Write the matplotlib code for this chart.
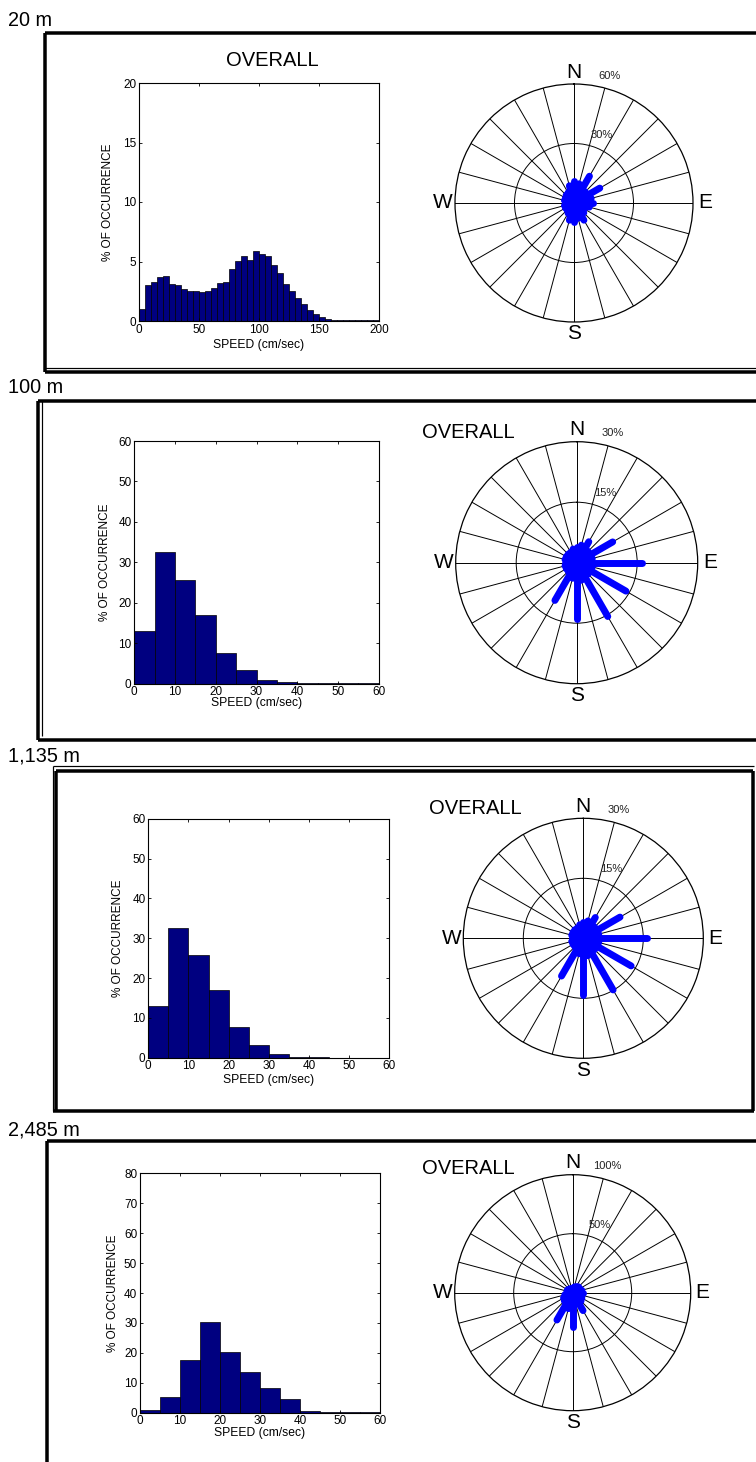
import numpy as np
import matplotlib
matplotlib.use("Agg")
import matplotlib.pyplot as plt
from matplotlib.lines import Line2D

plt.rcParams["font.family"] = ["Liberation Sans", "DejaVu Sans"]

# --- depth levels ---
depths = ["20 m", "100 m", "1,135 m", "2,485 m"]

# --- speed histograms (% of occurrence per 5 cm/sec bin) ---
bin_width = 5
pct_20 = [1.0, 3.0, 3.3, 3.7, 3.8, 3.1, 3.0, 2.65, 2.5, 2.5,
          2.4, 2.5, 2.8, 3.2, 3.3, 4.4, 5.05, 5.5, 5.1, 5.9,
          5.6, 5.5, 4.7, 4.05, 3.1, 2.5, 1.9, 1.4, 0.9, 0.6,
          0.3, 0.2, 0.05, 0.05, 0.05, 0.05, 0.05, 0.05, 0.05, 0.05]
pct_100 = [13.1, 32.5, 25.7, 16.9, 7.7, 3.3, 1.0, 0.3, 0.1, 0.05, 0.05, 0.05]
pct_1135 = [13.1, 32.5, 25.7, 16.9, 7.7, 3.3, 1.0, 0.3, 0.1, 0.05, 0.05, 0.05]
pct_2485 = [0.9, 5.35, 17.6, 30.3, 20.3, 13.5, 8.2, 4.5, 0.6, 0.3, 0.1, 0.1]

speed_max = [200, 60, 60, 60]
speed_ticks = [[0, 50, 100, 150, 200], [0, 10, 20, 30, 40, 50, 60],
               [0, 10, 20, 30, 40, 50, 60], [0, 10, 20, 30, 40, 50, 60]]
pct_max = [20, 60, 60, 80]
pct_step = [5, 10, 10, 10]

# --- direction roses (% of occurrence per 15 degree sector, clockwise from N) ---
dir_deg = [0, 15, 30, 45, 60, 75, 90, 105, 120, 135, 150, 165,
           180, 195, 210, 225, 240, 255, 270, 285, 300, 315, 330, 345]
rose_20 = [11, 10, 15.6, 8, 15, 9, 9.7, 8, 6, 7, 10, 8,
           9.7, 9, 6, 5, 5, 5, 4.5, 5, 5, 5.6, 6, 9]
rose_100 = [4, 4.5, 6, 4, 10.3, 4, 16.1, 4, 14.1, 4, 15.4, 4.5,
            14, 4, 10.8, 3, 3, 3, 2.9, 3, 3, 3, 3, 3.5]
rose_1135 = [4, 4.5, 6, 4, 10.6, 4, 15.8, 4, 13.8, 4, 14.9, 4.5,
             14.2, 4, 10.9, 3, 3, 3, 2.9, 3, 3, 3, 3, 3.5]
rose_2485 = [3.5, 5, 6, 7, 7, 8, 8.4, 8, 9, 10, 17.5, 10,
             28.7, 14, 26.7, 10, 9, 7, 6, 5, 5, 4, 4, 3.5]
rose_max = [60, 30, 30, 100]

hists = [pct_20, pct_100, pct_1135, pct_2485]
roses = [rose_20, rose_100, rose_1135, rose_2485]

W, H = 756, 1462
fig = plt.figure(figsize=(W / 100, H / 100), dpi=100)


def fx(x):
    return x / W


def fy(y):
    return 1 - y / H


def px_axes(x0, y0, x1, y1, **kw):
    return fig.add_axes([fx(x0), fy(y1), (x1 - x0) / W, (y1 - y0) / H], **kw)


def line(xs, ys, lw_px):
    fig.add_artist(Line2D([fx(x) for x in xs], [fy(y) for y in ys],
                          transform=fig.transFigure, color="black",
                          lw=lw_px * 0.72, solid_capstyle="butt"))


# layout (pixel boxes)
hist_box = [(139, 83, 379, 321), (134.3, 441, 378.7, 683.7),
            (148.3, 818.7, 389.3, 1057.7), (140, 1173.3, 380, 1412.7)]
ylab_x = [108, 105, 118, 113]
xlab_y = [345, 703, 1080, 1433]
rose_c = [(574, 203, 119), (576.7, 562.7, 121), (583.3, 938.3, 120), (572.7, 1292.7, 118)]
overall_xy = [(272, 61), (468, 432), (475, 809), (468, 1168)]
depth_y = [26, 393, 761.5, 1135]

# panel frames
line([45, 756], [33, 33], 3.5)
line([45, 45], [33, 372], 3.5)
line([45, 756], [372, 372], 3.5)
line([45, 756], [368.3, 368.3], 1.2)

line([38, 756], [401, 401], 3.5)
line([38, 38], [401, 739.5], 3.5)
line([41.5, 41.5], [401, 736], 1.2)
line([38, 756], [739.5, 739.5], 3.5)

line([52.5, 754], [766.3, 766.3], 1.2)
line([56, 753], [770.5, 770.5], 3.5)
line([52.5, 52.5], [766.3, 1111], 1.2)
line([56, 56], [770.5, 1111], 3.5)
line([52.5, 754], [1111, 1111], 3.5)
line([753, 753], [770.5, 1111], 3.5)

line([47, 756], [1141, 1141], 3.5)
line([47, 47], [1141, 1462], 3.5)

for i in range(4):
    fig.text(fx(8), fy(depth_y[i]), depths[i], fontsize=14.3, ha="left", va="baseline")

    # speed histogram
    x0, y0, x1, y1 = hist_box[i]
    ax = px_axes(x0, y0, x1, y1)
    vals = hists[i]
    left = [k * bin_width for k in range(len(vals))]
    ax.bar(left, vals, width=bin_width, align="edge", color="#000080",
           edgecolor="black", linewidth=0.5)
    ax.set_xlim(0, speed_max[i])
    ax.set_ylim(0, pct_max[i])
    ax.set_xticks(speed_ticks[i])
    ax.set_yticks(range(0, pct_max[i] + 1, pct_step[i]))
    ax.tick_params(direction="in", top=True, right=True, length=2.5, width=0.6,
                   labelsize=8.5, pad=2)
    for s in ax.spines.values():
        s.set_linewidth(0.8)
    fig.text(fx(ylab_x[i]), fy((y0 + y1) / 2), "% OF OCCURRENCE", rotation=90,
             fontsize=8.5, ha="center", va="center")
    fig.text(fx((x0 + x1) / 2), fy(xlab_y[i]), "SPEED (cm/sec)", fontsize=8.7,
             ha="center", va="center")
    fig.text(fx(overall_xy[i][0]), fy(overall_xy[i][1]), "OVERALL", fontsize=14.5,
             ha="center", va="center")

    # direction rose
    cx, cy, R = rose_c[i]
    pa = px_axes(cx - R, cy - R, cx + R, cy + R, projection="polar")
    pa.set_theta_zero_location("N")
    pa.set_theta_direction(-1)
    rmax = rose_max[i]
    pa.set_ylim(0, rmax)
    pa.set_thetagrids(range(0, 360, 15), labels=[""] * 24)
    pa.set_rgrids([rmax / 2], labels=[""])
    pa.grid(True, color="black", linewidth=0.7, linestyle="-")
    pa.spines["polar"].set_linewidth(0.9)
    pa.set_facecolor("none")
    for d, v in zip(dir_deg, roses[i]):
        th = np.deg2rad(d)
        pa.plot([th, th], [0, v], color="#0000FF", lw=5, solid_capstyle="round")
    for lab, ang in [("N", 0), ("E", 90), ("S", 180), ("W", 270)]:
        pa.text(np.deg2rad(ang), rmax * 1.1, lab, fontsize=15, ha="center", va="center")
    pa.text(np.deg2rad(15.5), rmax * 1.11, f"{rmax}%", fontsize=8, ha="center",
            va="center", color="#222222")
    pa.text(np.deg2rad(22), rmax * 0.62, f"{rmax // 2}%", fontsize=8, ha="center",
            va="center", color="#222222")

fig.savefig("out.png", dpi=100)
